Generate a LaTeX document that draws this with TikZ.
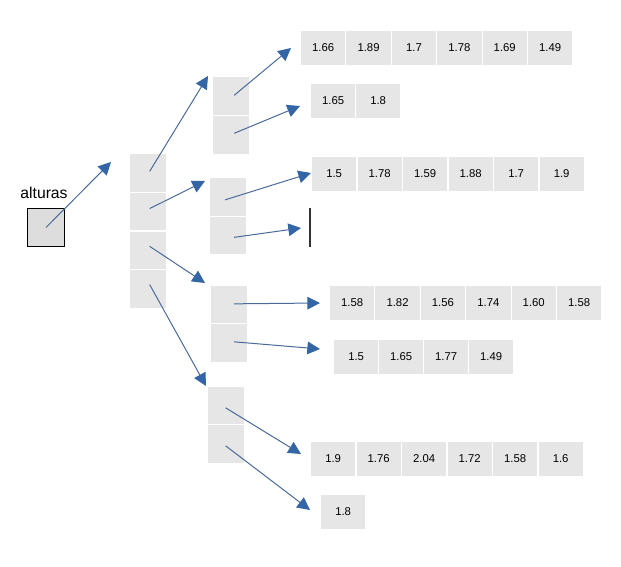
\documentclass[tikz,border=0pt]{standalone}
\usepackage{fontspec}
\setmainfont{Liberation Sans}
\usetikzlibrary{arrows.meta}
\definecolor{cellgray}{HTML}{E6E6E6}
\definecolor{boxgray}{HTML}{DDDDDD}
\definecolor{arrline}{HTML}{4A6A9A}
\definecolor{arrhead}{HTML}{3465A4}
\tikzset{
  cell/.style={rectangle, fill=cellgray, draw=white, line width=0.75pt, inner sep=0pt,
    minimum width=34pt, minimum height=26.25pt, anchor=north west, font=\fontsize{8.5}{10}\selectfont},
  lcell/.style={rectangle, fill=cellgray, draw=white, line width=0.75pt, inner sep=0pt,
    minimum width=28pt, minimum height=29pt, anchor=north west},
  arr/.style={draw=arrline, line width=0.75pt, -{Triangle[length=9.5pt,width=9.5pt,color=arrhead,fill=arrhead]}},
}
\begin{document}
\begin{tikzpicture}[x=0.75pt,y=-0.75pt]
\useasboundingbox (0,0) rectangle (621,567);
% alturas
\node[rectangle, fill=boxgray, draw=black, line width=0.75pt, minimum width=27.75pt, minimum height=28.5pt, inner sep=0pt, anchor=north west] (alt) at (27,208) {};
\node[font=\fontsize{11.8}{14}\selectfont] (altlbl) at (44,193) {alturas};
% level 1
\foreach \i in {1,2,3,4} \node[lcell] (l\i) at (129,{153+(\i-1)*38.75}) {};
% level 2
\node[lcell] (a1) at (212,76) {}; \node[lcell] (a2) at (212,115) {};
\node[lcell] (b1) at (209,177) {}; \node[lcell] (b2) at (209,215.5) {};
\node[lcell] (c1) at (210,285) {}; \node[lcell] (c2) at (210,323) {};
\node[lcell] (d1) at (207,386) {}; \node[lcell] (d2) at (207,424) {};
% rows
\foreach \v [count=\i from 0] in {1.66,1.89,1.7,1.78,1.69,1.49} \node[cell] (ra1-\i) at ({300+\i*45.4},30) {\v};
\foreach \v [count=\i from 0] in {1.65,1.8} \node[cell] (ra2-\i) at ({310+\i*45},83) {\v};
\foreach \v [count=\i from 0] in {1.5,1.78,1.59,1.88,1.7,1.9} \node[cell] (rb1-\i) at ({311+\i*45.5},156) {\v};
\foreach \v [count=\i from 0] in {1.58,1.82,1.56,1.74,1.60,1.58} \node[cell] (rc1-\i) at ({329+\i*45.4},285) {\v};
\foreach \v [count=\i from 0] in {1.5,1.65,1.77,1.49} \node[cell] (rc2-\i) at ({333+\i*45},339) {\v};
\foreach \v [count=\i from 0] in {1.9,1.76,2.04,1.72,1.58,1.6} \node[cell] (rd1-\i) at ({310+\i*45.5},441) {\v};
\foreach \v [count=\i from 0] in {1.8} \node[cell] (rd2-\i) at ({320+\i*45},494) {\v};
% empty marker
\coordinate (bar1) at (310,208); \coordinate (bar2) at (310,247);
\draw[line width=1.5pt, color=black!80] (bar1) -- (bar2);
% arrow ends
\coordinate (e0) at (111,162);
\coordinate (e1) at (208,76);
\coordinate (e2) at (205,181);
\coordinate (e3) at (205,283);
\coordinate (e4) at (206,386);
\coordinate (ea1) at (291,48);
\coordinate (ea2) at (300,106);
\coordinate (eb1) at (311,173);
\coordinate (eb2) at (301,228);
\coordinate (ec1) at (320,303);
\coordinate (ec2) at (320,349);
\coordinate (ed1) at (301,454);
\coordinate (ed2) at (310,510);
% arrows
\draw[arr] (alt.center) -- (e0);
\draw[arr] ([shift={(1.5,-1.5)}]l1.center) -- (e1);
\draw[arr] ([shift={(1.5,-3)}]l2.center) -- (e2);
\draw[arr] ([shift={(1.5,-4)}]l3.center) -- (e3);
\draw[arr] ([shift={(1.5,-4.5)}]l4.center) -- (e4);
\draw[arr] ([shift={(3,-0.5)}]a1.center) -- (ea1);
\draw[arr] ([shift={(3,-1.5)}]a2.center) -- (ea2);
\draw[arr] ([shift={(-3,3)}]b1.center) -- (eb1);
\draw[arr] ([shift={(6,2)}]b2.center) -- (eb2);
\draw[arr] ([shift={(5,-1)}]c1.center) -- (ec1);
\draw[arr] ([shift={(5,-1)}]c2.center) -- (ec2);
\draw[arr] ([shift={(-0.5,2)}]d1.center) -- (ed1);
\draw[arr] ([shift={(-0.5,2)}]d2.center) -- (ed2);
\end{tikzpicture}
\end{document}
